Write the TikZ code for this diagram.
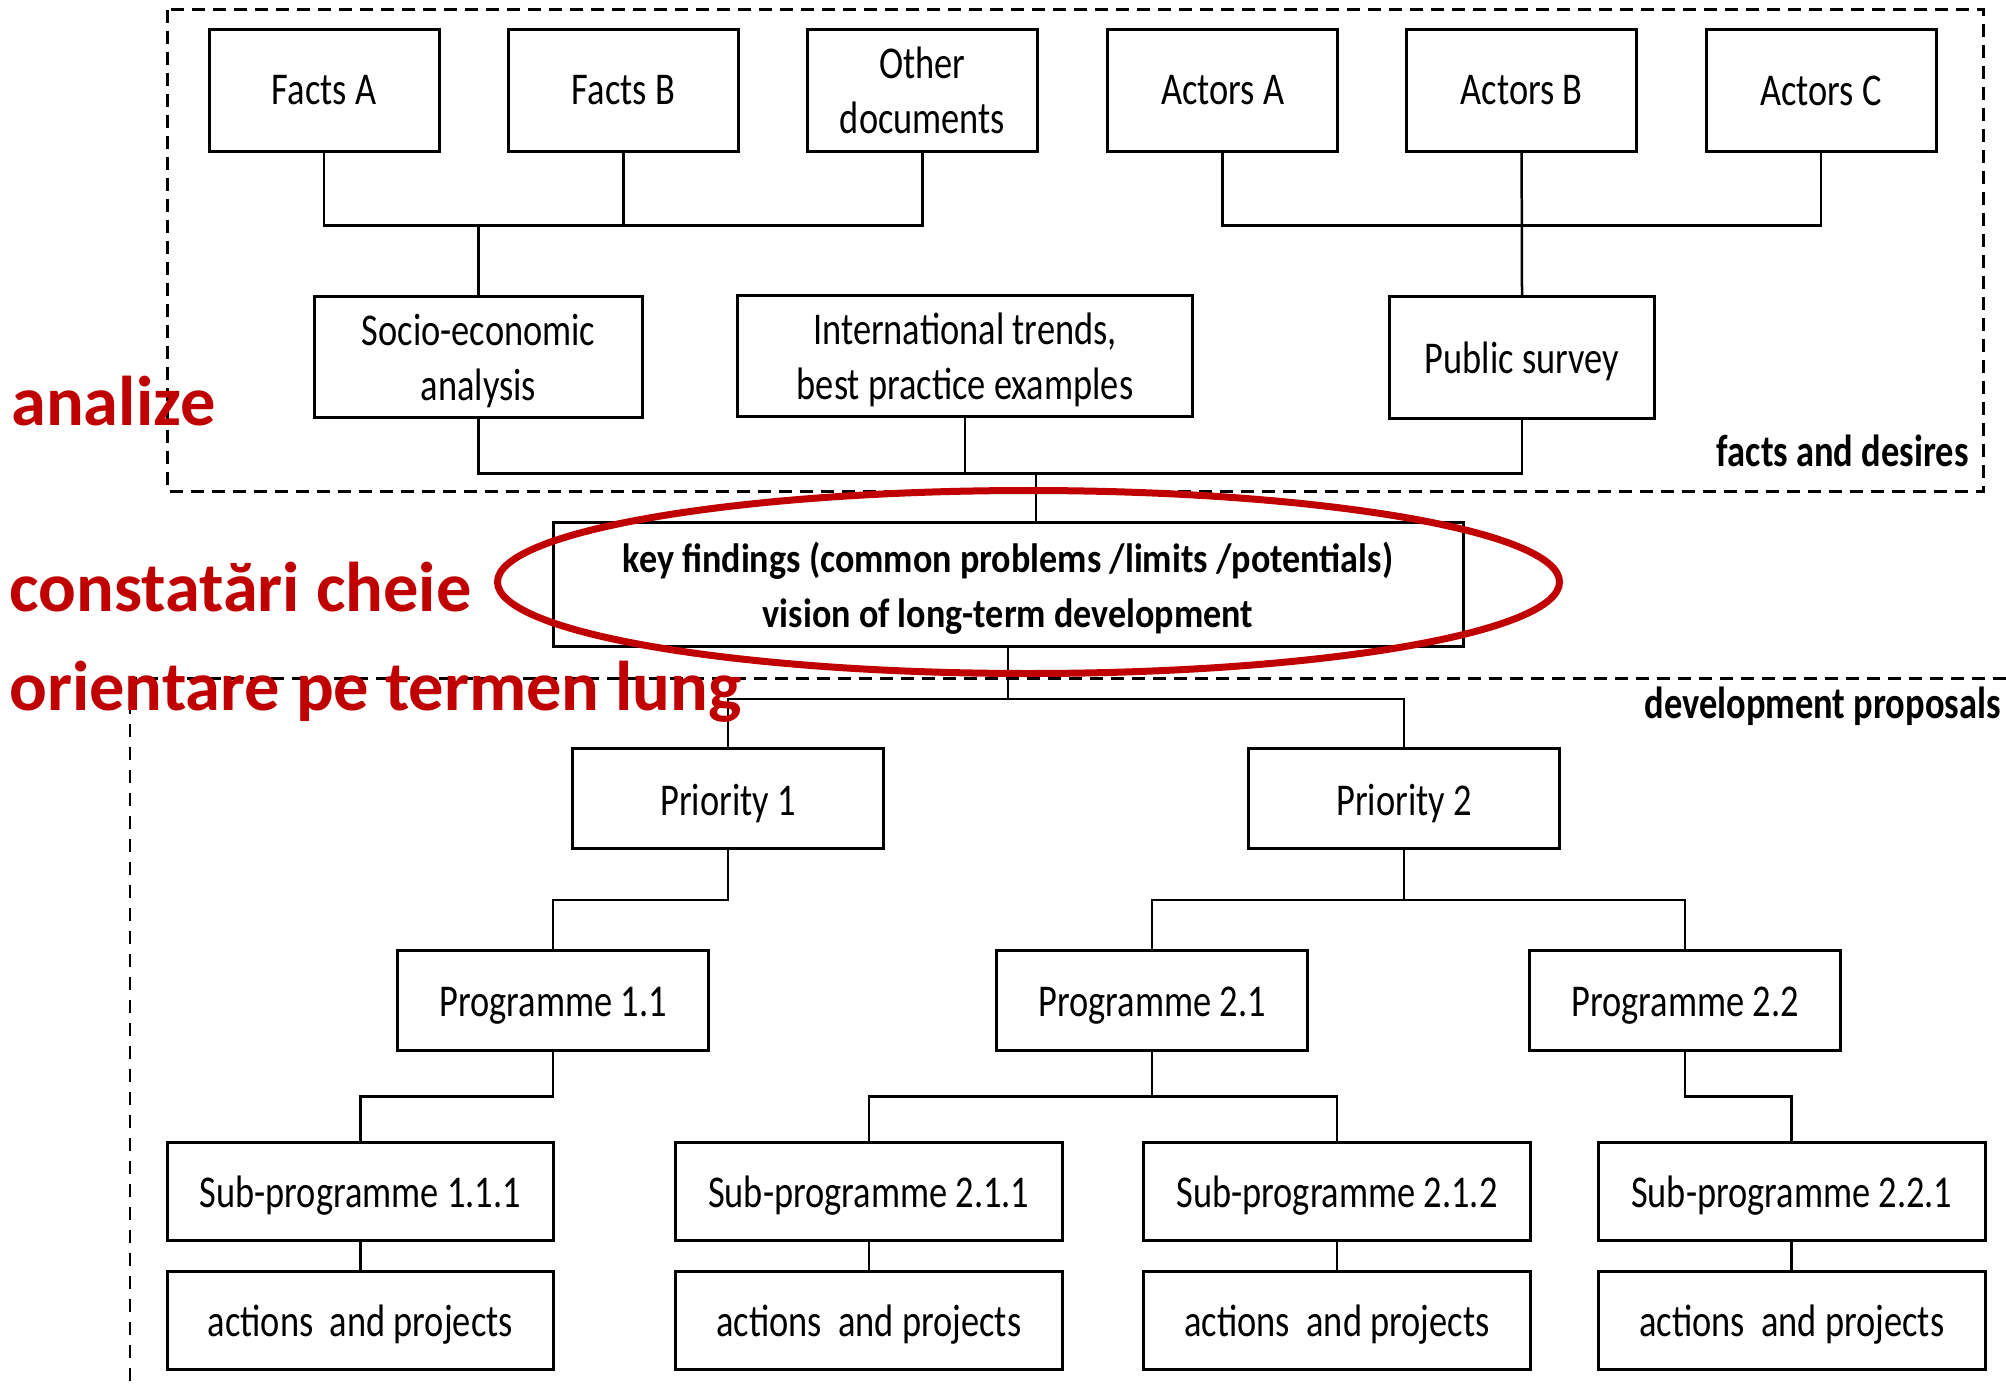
\documentclass[tikz,border=0pt]{standalone}
\usepackage{fontspec}
\setmainfont{Carlito}[FakeStretch=0.80]
\newfontfamily\redfont{Carlito}
\newfontfamily\keyfont{Carlito}[FakeStretch=0.88]
\newfontfamily\labfont{Carlito}[FakeStretch=0.81]
\definecolor{redmark}{HTML}{C00000}
\tikzset{
  box/.style={draw, line width=1.5pt, inner sep=0pt, align=center,
    font=\fontsize{22.75}{27.5}\selectfont},
  lowered/.style={execute at begin node={\rule{0pt}{20pt}}},
  twoline/.style={text depth=0pt},
  topbox/.style={box, minimum width=115pt, minimum height=61pt},
  pribox/.style={box, lowered, minimum width=155.3pt, minimum height=50pt},
  subbox/.style={box, lowered, minimum width=193.3pt, minimum height=49pt},
  conn/.style={line width=1.25pt},
  dashbox/.style={line width=1.5pt, dash pattern=on 6.5pt off 4pt},
  thindash/.style={line width=0.8pt, dash pattern=on 6.5pt off 5pt},
  redlabel/.style={text=redmark, inner sep=0pt, anchor=base west,
    font=\redfont\bfseries\fontsize{35.2}{40}\selectfont},
  seclabel/.style={inner sep=0pt, anchor=base east,
    font=\labfont\bfseries\fontsize{22.5}{26}\selectfont},
}
\begin{document}
\begin{tikzpicture}[x=0.5pt, y=-0.5pt]
\useasboundingbox (0,0) rectangle (2006,1386);
\fill[white] (0,0) rectangle (2006,1386);

% dashed frames
\draw[dashbox] (167.5,10) rectangle (1983.5,491);
\draw[dashbox] (2006,678) -- (130,678);
\draw[thindash] (130,678) -- (130,1386);

% top row
\node[topbox] (fa) at (324,90.5) {Facts A};
\node[topbox] (fb) at (623.5,90.5) {Facts B};
\node[topbox] (od) at (922.5,90.5) {Other\\documents};
\node[topbox] (aa) at (1222.6,90.5) {Actors A};
\node[topbox] (ab) at (1521.6,90.5) {Actors B};
\node[topbox] (ac) at (1821,90.5) {Actors C};

% second row
\node[box, twoline, minimum width=164.3pt, minimum height=60.3pt] (se) at (478.6,357) {Socio-economic\\analysis};
\node[box, twoline, minimum width=227.3pt, minimum height=60.5pt] (it) at (965,356.2) {International trends,\\best practice examples};
\node[box, lowered, minimum width=132.5pt, minimum height=60.8pt] (ps) at (1522,357.5) {Public survey};

% key findings
\node[box, twoline, minimum width=455pt, minimum height=62pt,
  font=\keyfont\bfseries\fontsize{20.5}{27.5}\selectfont] (key) at (1008,584.7)
  {key findings (common problems /limits /potentials)\\vision of long-term development};

% priorities
\node[pribox] (p1) at (728,798.7) {Priority 1};
\node[pribox] (p2) at (1404,798.7) {Priority 2};

% programmes
\node[pribox] (g11) at (553.2,1000.3) {Programme 1.1};
\node[pribox] (g21) at (1152,1000.3) {Programme 2.1};
\node[pribox] (g22) at (1685,1000.3) {Programme 2.2};

% sub-programmes
\node[subbox] (s111) at (360.3,1191.7) {Sub-programme 1.1.1};
\node[subbox] (s211) at (868.8,1191.7) {Sub-programme 2.1.1};
\node[subbox] (s212) at (1337,1191.7) {Sub-programme 2.1.2};
\node[subbox] (s221) at (1791.7,1191.7) {Sub-programme 2.2.1};

% actions
\node[subbox] (a111) at (360.3,1320.8) {actions\ \ and projects};
\node[subbox] (a211) at (868.8,1320.8) {actions\ \ and projects};
\node[subbox] (a212) at (1337,1320.8) {actions\ \ and projects};
\node[subbox] (a221) at (1791.7,1320.8) {actions\ \ and projects};

% junctions
\coordinate (j1) at (478.6,225.3);
\coordinate (j2) at (1521.6,225.3);
\coordinate (j3) at (1036,473.3);
\coordinate (j4) at (1008,699);
\coordinate (j5) at (728,900);
\coordinate (j6) at (1404,900);
\coordinate (j7) at (553.2,1096.7);
\coordinate (j8) at (1152,1096.7);
\coordinate (j9) at (1685,1096.7);

% connectors
\draw[conn] (fa.south) |- (j1) -| (od.south);
\draw[conn] (fb.south) -- (fb.south |- j1);
\draw[conn] (j1) -- (se.north);
\draw[conn] (aa.south) |- (j2) -| (ac.south);
\draw[conn] (ab.south) -- (ps.north);
\draw[conn] (se.south) |- (j3) -| (ps.south);
\draw[conn] (it.south) -- (it.south |- j3);
\draw[conn] (j3) -- (j3 |- key.north);
\draw[conn] (key.south) -- (j4);
\draw[conn] (p1.north) |- (j4) -| (p2.north);
\draw[conn] (p1.south) -- (j5) -| (g11.north);
\draw[conn] (p2.south) -- (j6);
\draw[conn] (g21.north) |- (j6) -| (g22.north);
\draw[conn] (g11.south) -- (j7) -| (s111.north);
\draw[conn] (g21.south) -- (j8);
\draw[conn] (s211.north) |- (j8) -| (s212.north);
\draw[conn] (g22.south) -- (j9) -| (s221.north);
\draw[conn] (s111.south) -- (a111.north);
\draw[conn] (s211.south) -- (a211.north);
\draw[conn] (s212.south) -- (a212.north);
\draw[conn] (s221.south) -- (a221.north);

% section labels
\node[seclabel] (lfd) at (1969,466.7) {facts and desires};
\node[seclabel] (ldp) at (2001,718) {development proposals};

% red annotations
\draw[redmark, line width=3.5pt] (1028.5,582) ellipse [x radius=265.5pt, y radius=45.75pt];
\node[redlabel] (ran) at (11,425) {analize};
\node[redlabel] (rcc) at (9,611.7) {constatări cheie};
\node[redlabel] (rot) at (9,710) {orientare pe termen lung};
\end{tikzpicture}
\end{document}
